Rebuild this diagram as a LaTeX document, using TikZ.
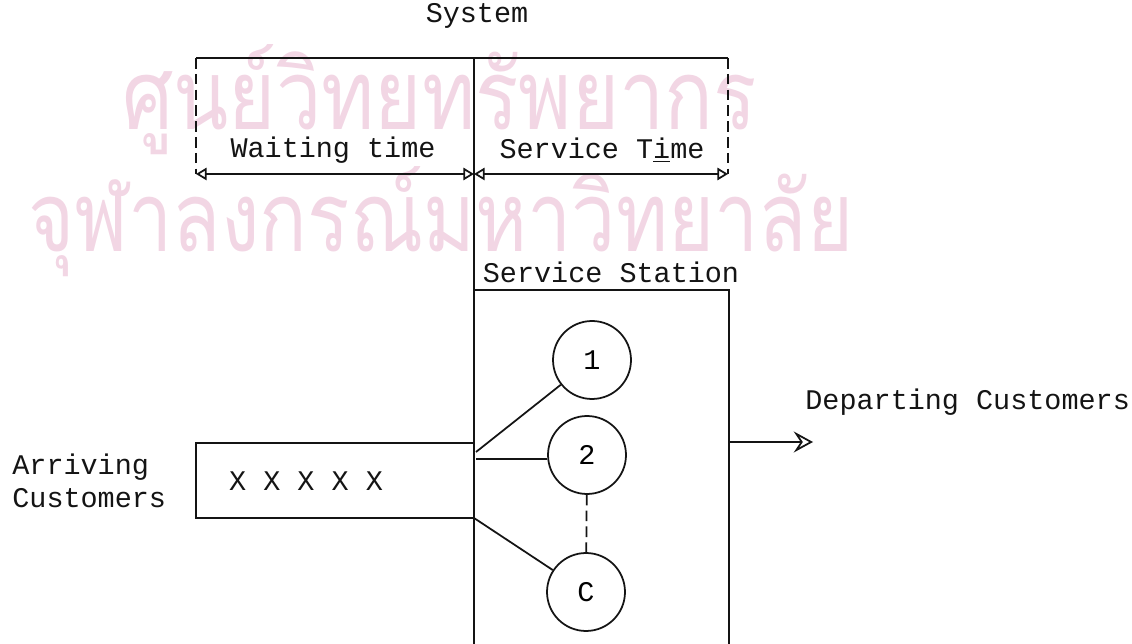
\documentclass[tikz,border=0pt]{standalone}
\usepackage{fontspec}
\setmonofont{Liberation Mono}
\newfontfamily\thaifont[Script=Thai]{Loma}
\usepackage{xcolor}
\usepackage{tikz}
\usetikzlibrary{arrows.meta,positioning,shapes.geometric,calc,backgrounds}
\definecolor{ink}{HTML}{141414}
\definecolor{stamp}{HTML}{F2D6E4}
\tikzset{
  frameline/.style={
    draw=ink, line width=1pt
  },
  gapline/.style={
    draw=ink, line width=1pt, dash pattern=on 6pt off 3pt
  },
  spanarrow/.style={
    {Triangle[open,length=6pt,width=7pt]}-{Triangle[open,length=6pt,width=7pt]},
    line width=1pt, color=ink
  },
  exitarrow/.style={
    -{Stealth[open,length=11pt,width=12pt,inset=4pt]}, line width=1pt, color=ink
  },
  server/.style={
    circle, draw=ink, line width=1pt, minimum size=1.56cm,
    font=\fontsize{16.2}{19}\selectfont\ttfamily, inner sep=0pt
  },
  labelnode/.style={
    font=\fontsize{16.2}{19}\selectfont\ttfamily, color=ink, inner sep=0pt
  },
  watermark/.style={
    color=stamp, inner sep=0pt, font=\thaifont, anchor=base west
  },
}
\begin{document}
\begin{tikzpicture}[x=0.02cm,y=-0.02cm]
  \useasboundingbox (0,0) rectangle (1132,644);
  % watermark of the scan
  \begin{scope}[on background layer]
    \node[watermark] (wm1) at (122,130) {\resizebox{12.7cm}{1.7cm}{ศูนย์วิทยทรัพยากร}};
    \node[watermark] (wm2) at (28,252) {\resizebox{16.5cm}{1.7cm}{จุฬาลงกรณ์มหาวิทยาลัย}};
  \end{scope}
  % system span
  \node[labelnode] (sys) at (477,16) {System};
  \coordinate (sysL) at (196,58);
  \coordinate (sysM) at (474,58);
  \coordinate (sysR) at (728,58);
  \coordinate (waitL) at (196,174);
  \coordinate (waitR) at (474,174);
  \coordinate (servR) at (728,174);
  \draw[frameline] (sysL) -- (sysR);
  \draw[gapline] (sysL) -- (waitL);
  \draw[gapline] (sysR) -- (servR);
  \draw[spanarrow] (waitL) -- (waitR);
  \draw[spanarrow] (waitR) -- (servR);
  \node[labelnode] (wait) at (333,150) {Waiting time};
  \node[labelnode] (serv) at (602,150) {Service T\underline{i}me};
  % service station
  \coordinate (stnTL) at (474,290);
  \coordinate (stnTR) at (729,290);
  \coordinate (stnBL) at (474,644);
  \coordinate (stnBR) at (729,644);
  \draw[frameline] (sysM) -- (stnBL);
  \draw[frameline] (stnTL) -- (stnTR) -- (stnBR);
  \node[labelnode] (stn) at (611,272) {Service Station};
  \node[server] (s1) at (592,360) {1};
  \node[server] (s2) at (587,455) {2};
  \node[server] (sc) at (586,592) {C};
  \coordinate (in1) at (476,452);
  \coordinate (in2) at (476,459);
  \coordinate (inc) at (474,518);
  \draw[frameline] (in1) -- (s1);
  \draw[frameline] (in2) -- (in2 -| s2.west);
  \draw[frameline] (inc) -- (sc);
  \draw[gapline] (s2) -- (sc);
  % queue
  \coordinate (qTR) at (474,443);
  \coordinate (qTL) at (196,443);
  \coordinate (qBL) at (196,518);
  \draw[frameline] (qTR) -- (qTL) -- (qBL) -- (inc);
  \node[labelnode] (queue) at (306,481) {X X X X X};
  \node[labelnode, anchor=west, align=left] (arr) at (12,481) {Arriving\\Customers};
  % departure
  \coordinate (depS) at (729,442);
  \coordinate (depE) at (813,442);
  \draw[exitarrow] (depS) -- (depE);
  \node[labelnode, anchor=west] (dep) at (805,402) {Departing Customers};
\end{tikzpicture}
\end{document}
